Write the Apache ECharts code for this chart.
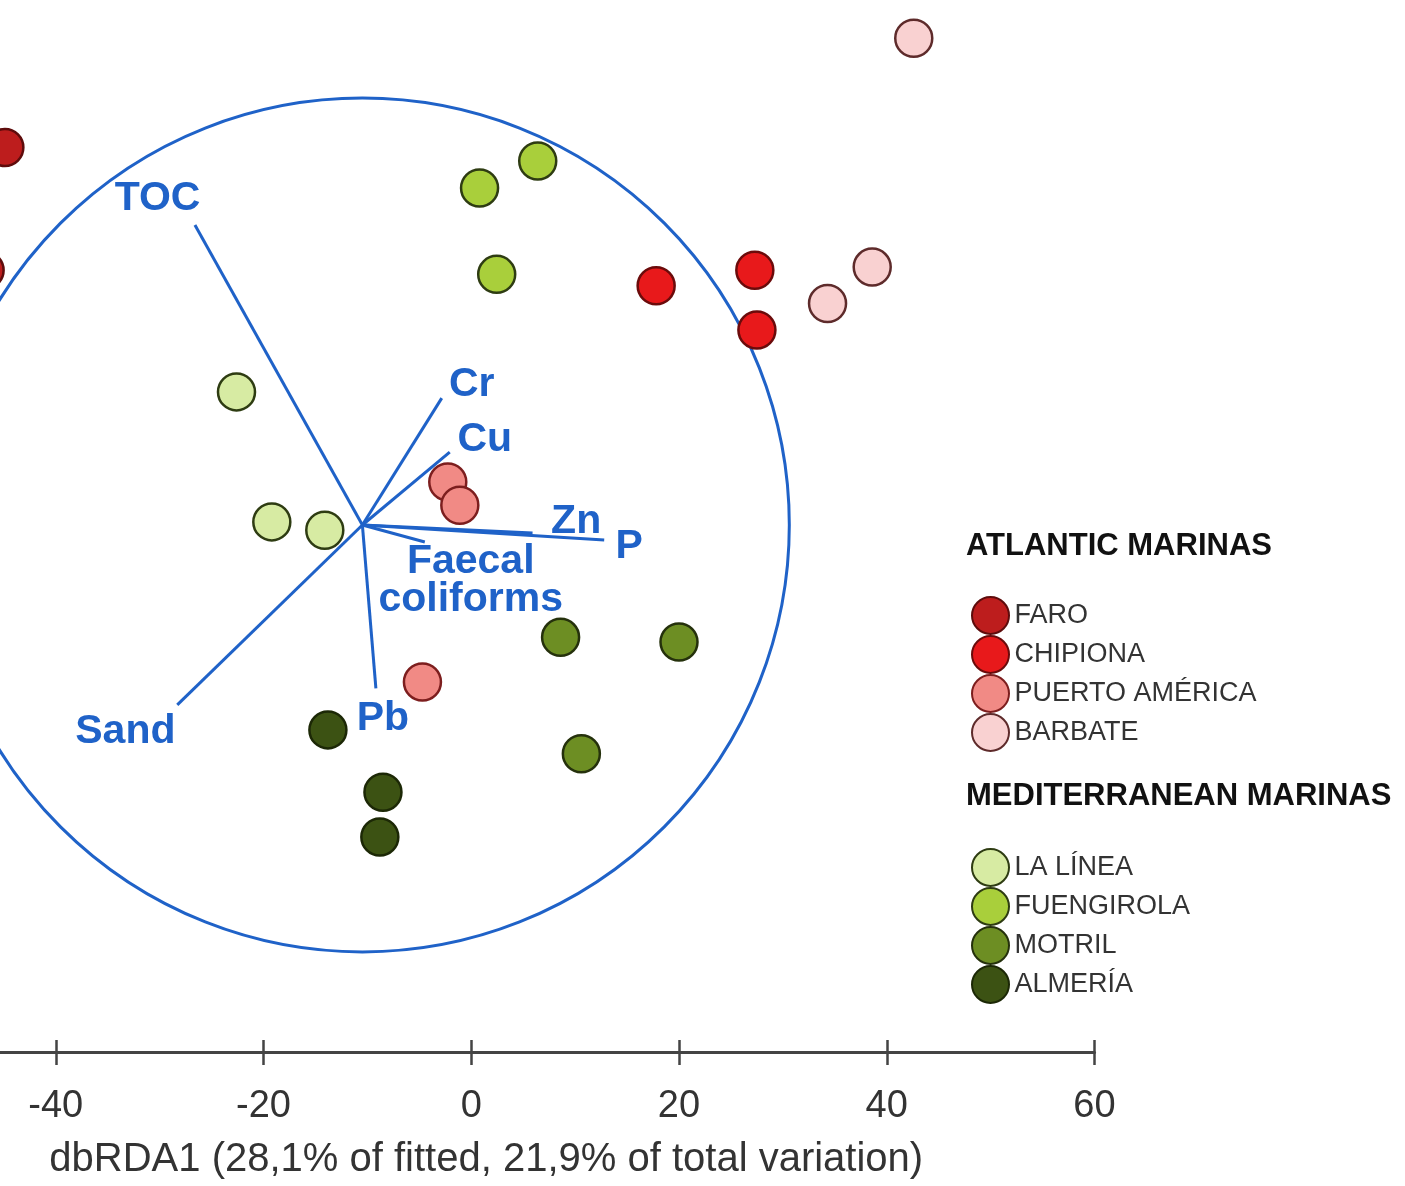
<!DOCTYPE html>
<html>
<head>
<meta charset="utf-8">
<script src="https://cdn.jsdelivr.net/npm/echarts@6/dist/echarts.min.js"></script>
<style>
html,body{margin:0;padding:0;background:#fff;}
#chart{width:1405px;height:1186px;}
</style>
</head>
<body>
<div id="chart"></div>
<script>
// ---- Data ----
const xTicks = [-60, 60, 20]; // min, max, interval
const axisTitle = 'dbRDA1 (28,1% of fitted, 21,9% of total variation)';

const groupNames = ['FARO', 'CHIPIONA', 'PUERTO AMÉRICA', 'BARBATE', 'LA LÍNEA', 'FUENGIROLA', 'MOTRIL', 'ALMERÍA'];
const faroPts       = [[-44.9, 36.3], [-46.8, 24.5]];
const chipionaPts   = [[17.8, 23.0], [27.3, 24.5], [27.5, 18.75]];
const puertoPts     = [[-2.26, 4.13], [-1.1, 1.9], [-4.7, -15.1]];
const barbatePts    = [[42.6, 46.8], [38.6, 24.8], [34.3, 21.3]];
const laLineaPts    = [[-22.6, 12.8], [-19.2, 0.3], [-14.1, -0.5]];
const fuengirolaPts = [[6.4, 35.0], [0.8, 32.4], [2.45, 24.1]];
const motrilPts     = [[8.6, -10.8], [20.0, -11.25], [10.6, -22.0]];
const almeriaPts    = [[-13.8, -19.7], [-8.5, -25.7], [-8.8, -30.0]];

const vectorOrigin = [-10.48, 0];
const vectorNames  = ['TOC', 'Cr', 'Cu', 'Zn', 'P', 'Faecal\ncoliforms', 'Pb', 'Sand'];
const vectorX      = [-26.6, -2.84, -2.07, 5.9, 12.8, -4.47, -9.18, -28.3];
const vectorY      = [28.85, 12.2, 7.0, -0.77, -1.44, -1.63, -15.7, -17.3];
const labelX       = [-30.2, 0.05, 1.3, 10.1, 15.2, -0.05, -8.5, -33.3];
const labelY       = [31.4, 13.5, 8.2, 0.3, -2.1, -5.4, -18.6, -19.9];
const circleRadius = 41.1;

// ---- Styles ----
const fills   = ['#bd1d1d', '#e8191b', '#f18a85', '#f9d1d1', '#d7eba3', '#a9cf3b', '#6d8e23', '#3c5213'];
const borders = ['#5e0c0c', '#6b0b0b', '#7d1e1e', '#5e2b2b', '#2e3c12', '#2e3c12', '#25310c', '#1c2806'];
const groupData = [faroPts, chipionaPts, puertoPts, barbatePts, laLineaPts, fuengirolaPts, motrilPts, almeriaPts];
const BLUE = '#1f62c8';
const FONT = '"Liberation Sans", Arial, Helvetica, sans-serif';

const chart = echarts.init(document.getElementById('chart'), null, {renderer: 'canvas'});

const scatterSeries = groupNames.map((name, i) => ({
  name: name,
  type: 'scatter',
  data: groupData[i],
  symbol: 'circle',
  symbolSize: 37,
  z: 5,
  clip: false,
  itemStyle: {color: fills[i], borderColor: borders[i], borderWidth: 2.5, opacity: 1},
  emphasis: {disabled: true}
}));

const vectorData = vectorNames.map((n, i) => [vectorX[i], vectorY[i], labelX[i], labelY[i], n]);

const option = {
  animation: false,
  backgroundColor: '#ffffff',
  grid: {left: -152, right: 310.5, top: 0, bottom: 134, containLabel: false, outerBoundsMode: 'none'},
  xAxis: [{
    type: 'value', min: xTicks[0], max: xTicks[1], interval: xTicks[2],
    position: 'bottom',
    splitLine: {show: false},
    axisLine: {onZero: false, lineStyle: {color: '#444', width: 3}},
    axisTick: {show: true, length: 13, lineStyle: {color: '#444', width: 2.5}},
    axisLabel: {fontSize: 38, color: '#333', margin: 36, fontFamily: FONT},
    name: axisTitle, nameLocation: 'middle', nameGap: 88,
    nameTextStyle: {fontSize: 40, color: '#333', fontFamily: FONT, padding: [0, 0, 0, 30]}
  }, {
    type: 'value', min: xTicks[0], max: xTicks[1], interval: xTicks[2],
    position: 'bottom',
    splitLine: {show: false},
    axisLine: {show: false, onZero: false},
    axisTick: {show: true, inside: true, length: 12, lineStyle: {color: '#444', width: 2.5}},
    axisLabel: {show: false}
  }],
  yAxis: {type: 'value', min: -50.67, max: 50.48, show: false, splitLine: {show: false}},
  legend: [{
    data: groupNames.slice(0, 4),
    orient: 'vertical', left: 966, top: 591,
    itemWidth: 38, itemHeight: 37, itemGap: 0,
    icon: 'circle', selectedMode: false,
    textStyle: {fontSize: 27, color: '#333', fontFamily: FONT}
  }, {
    data: groupNames.slice(4),
    orient: 'vertical', left: 966, top: 843,
    itemWidth: 38, itemHeight: 37, itemGap: 0,
    icon: 'circle', selectedMode: false,
    textStyle: {fontSize: 27, color: '#333', fontFamily: FONT}
  }],
  graphic: [
    {type: 'text', left: 966, top: 531, style: {text: 'ATLANTIC MARINAS', font: 'bold 31px ' + FONT, fill: '#111'}},
    {type: 'text', left: 966, top: 781, style: {text: 'MEDITERRANEAN MARINAS', font: 'bold 31px ' + FONT, fill: '#111'}}
  ],
  series: [
    {
      type: 'custom',
      name: 'circle',
      data: [[vectorOrigin[0], vectorOrigin[1], circleRadius]],
      z: 1,
      clip: false,
      renderItem: function (params, api) {
        const c = api.coord([api.value(0), api.value(1)]);
        const r = api.size([api.value(2), 0])[0];
        return {type: 'circle', shape: {cx: c[0], cy: c[1], r: r},
          style: {fill: 'none', stroke: BLUE, lineWidth: 3}};
      }
    },
    {
      type: 'custom',
      name: 'vectors',
      data: vectorData,
      z: 2,
      clip: false,
      renderItem: function (params, api) {
        const o = api.coord(vectorOrigin);
        const e = api.coord([api.value(0), api.value(1)]);
        const l = api.coord([api.value(2), api.value(3)]);
        return {type: 'group', children: [
          {type: 'line', shape: {x1: o[0], y1: o[1], x2: e[0], y2: e[1]},
            style: {stroke: BLUE, lineWidth: 3}},
          {type: 'text', x: l[0], y: l[1], z2: 10,
            style: {text: vectorNames[params.dataIndex], font: 'bold 41px ' + FONT, fill: BLUE,
              align: 'center', verticalAlign: 'middle', lineHeight: 38}}
        ]};
      }
    }
  ].concat(scatterSeries)
};
chart.setOption(option);
</script>
</body>
</html>
